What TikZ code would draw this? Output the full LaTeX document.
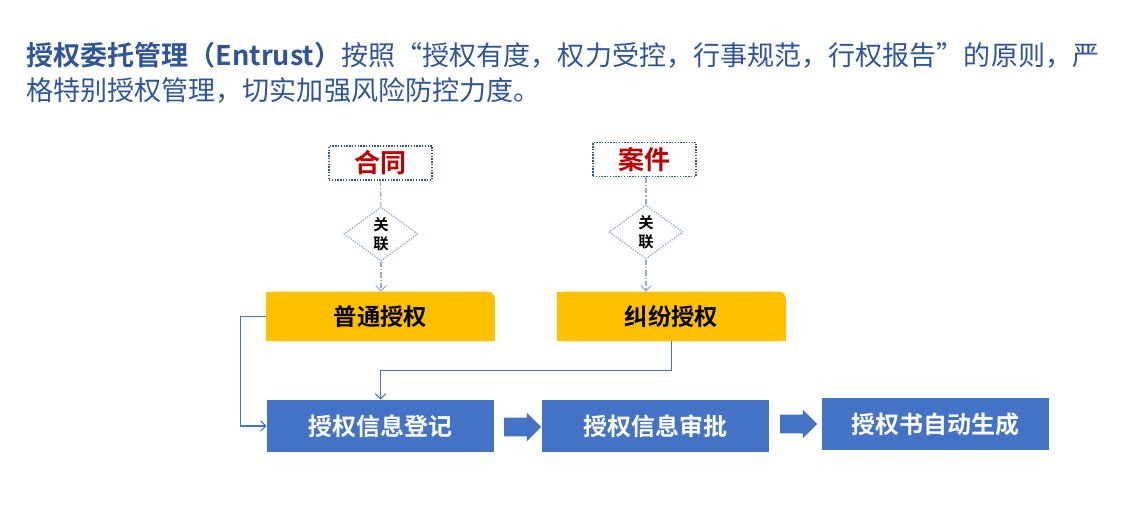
\documentclass[tikz,border=0pt]{standalone}
\usepackage{xcolor}
\usepackage{fontspec}
\setmainfont{Noto Sans CJK SC}[BoldFont={Noto Sans CJK SC Bold}]
\usepackage{tikz}
\usetikzlibrary{calc,arrows.meta,shapes.geometric,shapes.arrows,backgrounds}
\definecolor{titleblue}{HTML}{2F5597}
\definecolor{boxblue}{HTML}{4472C4}
\definecolor{gold}{HTML}{FFC000}
\definecolor{darkred}{HTML}{C00000}
\definecolor{lightblue}{HTML}{8FAADC}

\begin{document}
\begin{tikzpicture}[x=0.75pt,y=-0.75pt,
		title/.style={anchor=west,inner sep=0pt,text=titleblue,font=\fontsize{20.3}{24}\selectfont},
		tagbox/.style={draw=titleblue,line width=1.1pt,dash pattern=on 1.1pt off 1pt,minimum width=103*\px,minimum height=34*\px,inner sep=0pt,text=darkred,font=\fontsize{19.5}{22}\selectfont\bfseries},
		link/.style={diamond,draw=lightblue,line width=1pt,dash pattern=on 1pt off 1pt,minimum width=74*\px,minimum height=54*\px,inner sep=0pt,align=center,font=\fontsize{11.5}{14}\selectfont\bfseries},
		typebox/.style={minimum width=228*\px,minimum height=49*\px,inner sep=0pt,font=\fontsize{17.5}{20}\selectfont\bfseries},
		taskbox/.style={fill=boxblue,text=white,minimum width=227*\px,minimum height=52*\px,inner sep=0pt,font=\fontsize{18}{20}\selectfont\bfseries},
		flow/.style={single arrow,fill=boxblue,minimum height=37*\px,inner xsep=0pt,inner ysep=9*\px,single arrow head extend=5*\px},
		rel/.style={draw=lightblue,line width=0.8pt,dash pattern=on 4pt off 1.5pt on 1pt off 1.5pt},
		conn/.style={draw=boxblue,line width=0.8pt,-{Straight Barb[length=4pt,width=8pt]}}]
		    \def\px{0.75pt}
		    \useasboundingbox (0,0) rectangle (1143,516);
		    \node[title] (t1) at (26,55) {\textbf{授权委托管理（Entrust）}按照“授权有度，权力受控，行事规范，行权报告”的原则，严};
		    \node[title] (t2) at (26,90) {格特别授权管理，切实加强风险防控力度。};
		    \node[tagbox] (he) at (380.5,163) {合同}; % source of 普通
		    \node[tagbox] (an) at (644.5,159.5) {案件}; % source of 纠纷
		    \node[link] (gl1) at (381,234) {关\\联};
		    \node[link] (gl2) at (646,232) {关\\联};
		    \node[typebox] (pt) at (380.5,316.5) {普通授权};
		    \node[typebox] (jf) at (671.5,316.5) {纠纷授权};
		    \node[taskbox] (dj) at (380.5,426) {授权信息登记};
		    \node[taskbox] (sp) at (655,426) {授权信息审批};
		    \node[taskbox] (sc) at (935.5,424.5) {授权书自动生成};
		    \node[flow] (f1) at (518,427) {}; % block arrow
		    \node[flow] (f2) at (794,424) {}; % block arrow
		    \draw[rel] (he) -- (gl1);
		    \draw[rel,-{Straight Barb[length=4pt,width=8pt]}] (gl1) -- (gl1 |- pt.north);
		    \draw[rel] (gl2.north |- an.south) -- (gl2);
		    \draw[rel,-{Straight Barb[length=4pt,width=8pt]}] (gl2) -- (gl2 |- pt.north);
		    \draw[conn] (pt.west) -- ++(-26,0) |- (dj.west); % left loop
		    \draw[conn] (jf.south) |- ($(dj.north)+(0,-29)$) -- (dj.north);
		    \begin{scope}[on background layer]
		        \foreach \n in {pt,jf} {
		            \fill[gold,rounded corners=5pt] (\n.south west) rectangle (\n.north east); % round top right
		            \fill[gold] (\n.south west) rectangle (\n.north);
		            \fill[gold] (\n.south west) rectangle (\n.east);
		        }
		    \end{scope}
	    \end{tikzpicture}
\end{document}
